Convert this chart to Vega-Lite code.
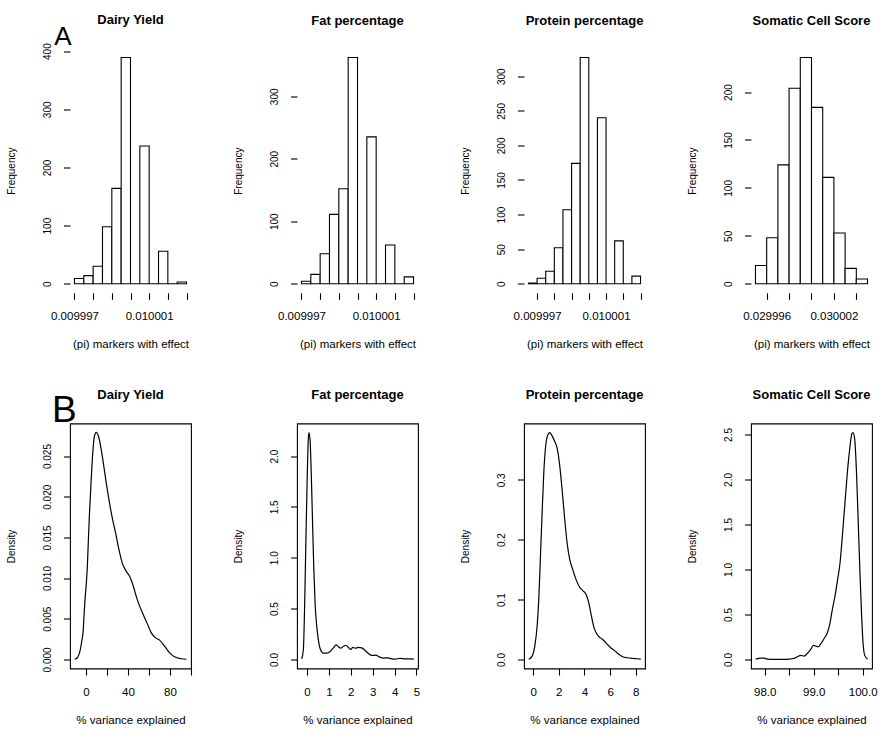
{
  "$schema": "https://vega.github.io/schema/vega-lite/v6.json",
  "background": "white",
  "padding": {"left": 5, "top": 13.5, "right": 5, "bottom": 5},
  "columns": 4,
  "bounds": "flush",
  "spacing": {"row": 130, "column": 106},
  "datasets": {
    "h_dairy": [
      {"x0": 0.0099970, "x1": 0.0099975, "count": 9},
      {"x0": 0.0099975, "x1": 0.0099980, "count": 14},
      {"x0": 0.0099980, "x1": 0.0099985, "count": 30},
      {"x0": 0.0099985, "x1": 0.0099990, "count": 98},
      {"x0": 0.0099990, "x1": 0.0099995, "count": 164},
      {"x0": 0.0099995, "x1": 0.0100000, "count": 389},
      {"x0": 0.0100000, "x1": 0.0100005, "count": 0},
      {"x0": 0.0100005, "x1": 0.0100010, "count": 237},
      {"x0": 0.0100010, "x1": 0.0100015, "count": 0},
      {"x0": 0.0100015, "x1": 0.0100020, "count": 56},
      {"x0": 0.0100020, "x1": 0.0100025, "count": 0},
      {"x0": 0.0100025, "x1": 0.0100030, "count": 3}
    ],
    "h_fat": [
      {"x0": 0.0099970, "x1": 0.0099975, "count": 4},
      {"x0": 0.0099975, "x1": 0.0099980, "count": 15},
      {"x0": 0.0099980, "x1": 0.0099985, "count": 48},
      {"x0": 0.0099985, "x1": 0.0099990, "count": 111},
      {"x0": 0.0099990, "x1": 0.0099995, "count": 152},
      {"x0": 0.0099995, "x1": 0.0100000, "count": 362},
      {"x0": 0.0100000, "x1": 0.0100005, "count": 0},
      {"x0": 0.0100005, "x1": 0.0100010, "count": 235},
      {"x0": 0.0100010, "x1": 0.0100015, "count": 0},
      {"x0": 0.0100015, "x1": 0.0100020, "count": 62},
      {"x0": 0.0100020, "x1": 0.0100025, "count": 0},
      {"x0": 0.0100025, "x1": 0.0100030, "count": 11}
    ],
    "h_prot": [
      {"x0": 0.0099965, "x1": 0.0099970, "count": 1},
      {"x0": 0.0099970, "x1": 0.0099975, "count": 8},
      {"x0": 0.0099975, "x1": 0.0099980, "count": 18},
      {"x0": 0.0099980, "x1": 0.0099985, "count": 52},
      {"x0": 0.0099985, "x1": 0.0099990, "count": 107},
      {"x0": 0.0099990, "x1": 0.0099995, "count": 174},
      {"x0": 0.0099995, "x1": 0.0100000, "count": 327},
      {"x0": 0.0100000, "x1": 0.0100005, "count": 0},
      {"x0": 0.0100005, "x1": 0.0100010, "count": 240},
      {"x0": 0.0100010, "x1": 0.0100015, "count": 0},
      {"x0": 0.0100015, "x1": 0.0100020, "count": 62},
      {"x0": 0.0100020, "x1": 0.0100025, "count": 0},
      {"x0": 0.0100025, "x1": 0.0100030, "count": 11}
    ],
    "h_scs": [
      {"x0": 0.029995, "x1": 0.029996, "count": 19},
      {"x0": 0.029996, "x1": 0.029997, "count": 48},
      {"x0": 0.029997, "x1": 0.029998, "count": 124},
      {"x0": 0.029998, "x1": 0.029999, "count": 204},
      {"x0": 0.029999, "x1": 0.030000, "count": 236},
      {"x0": 0.030000, "x1": 0.030001, "count": 184},
      {"x0": 0.030001, "x1": 0.030002, "count": 111},
      {"x0": 0.030002, "x1": 0.030003, "count": 53},
      {"x0": 0.030003, "x1": 0.030004, "count": 16},
      {"x0": 0.030004, "x1": 0.030005, "count": 5}
    ],
    "d_dairy": [
      {"x": -10.8, "y": 0.00002}, {"x": -8.29, "y": 0.0002}, {"x": -6.7, "y": 0.00061},
      {"x": -5.43, "y": 0.00122}, {"x": -3.84, "y": 0.00245}, {"x": -2.89, "y": 0.00326},
      {"x": -1.94, "y": 0.00531}, {"x": -0.98, "y": 0.00735}, {"x": 0.29, "y": 0.00939},
      {"x": 1.24, "y": 0.01143}, {"x": 1.87, "y": 0.01348}, {"x": 3.14, "y": 0.01757},
      {"x": 4.73, "y": 0.02165}, {"x": 6.6, "y": 0.02573}, {"x": 7.9, "y": 0.02737},
      {"x": 9.8, "y": 0.0279}, {"x": 12.03, "y": 0.02737}, {"x": 14.57, "y": 0.02573},
      {"x": 19.33, "y": 0.02165}, {"x": 21.87, "y": 0.01961}, {"x": 24.73, "y": 0.01757},
      {"x": 28.22, "y": 0.01552}, {"x": 31.4, "y": 0.01348}, {"x": 34.57, "y": 0.01184},
      {"x": 38.38, "y": 0.01082}, {"x": 41.55, "y": 0.01021}, {"x": 44.1, "y": 0.00939},
      {"x": 48.86, "y": 0.00735}, {"x": 55.21, "y": 0.00531}, {"x": 58.07, "y": 0.00449},
      {"x": 62.2, "y": 0.00326}, {"x": 66.31, "y": 0.00265}, {"x": 70.12, "y": 0.00237},
      {"x": 74.89, "y": 0.00163}, {"x": 79.65, "y": 0.00081}, {"x": 84.41, "y": 0.00032},
      {"x": 90.76, "y": 0.00008}, {"x": 95.8, "y": 0.00002}
    ],
    "d_fat": [
      {"x": -0.244, "y": 0.006}, {"x": -0.168, "y": 0.098}, {"x": -0.122, "y": 0.425},
      {"x": -0.061, "y": 1.078}, {"x": 0.0, "y": 1.731}, {"x": 0.046, "y": 2.124},
      {"x": 0.085, "y": 2.231}, {"x": 0.137, "y": 2.157}, {"x": 0.183, "y": 1.895},
      {"x": 0.244, "y": 1.405}, {"x": 0.305, "y": 0.915}, {"x": 0.366, "y": 0.555},
      {"x": 0.442, "y": 0.327}, {"x": 0.518, "y": 0.189}, {"x": 0.61, "y": 0.098},
      {"x": 0.747, "y": 0.062}, {"x": 0.899, "y": 0.062}, {"x": 1.052, "y": 0.078},
      {"x": 1.204, "y": 0.114}, {"x": 1.326, "y": 0.143}, {"x": 1.433, "y": 0.124},
      {"x": 1.539, "y": 0.11}, {"x": 1.661, "y": 0.13}, {"x": 1.783, "y": 0.137},
      {"x": 1.89, "y": 0.118}, {"x": 1.996, "y": 0.098}, {"x": 2.088, "y": 0.118},
      {"x": 2.195, "y": 0.11}, {"x": 2.347, "y": 0.118}, {"x": 2.499, "y": 0.114},
      {"x": 2.652, "y": 0.088}, {"x": 2.804, "y": 0.059}, {"x": 2.957, "y": 0.039},
      {"x": 3.14, "y": 0.042}, {"x": 3.292, "y": 0.026}, {"x": 3.49, "y": 0.013},
      {"x": 3.688, "y": 0.016}, {"x": 3.871, "y": 0.006}, {"x": 4.024, "y": 0.003},
      {"x": 4.252, "y": 0.01}, {"x": 4.481, "y": 0.006}, {"x": 4.71, "y": 0.006},
      {"x": 4.877, "y": 0.003}
    ],
    "d_prot": [
      {"x": -0.338, "y": 0.0003}, {"x": -0.078, "y": 0.0055}, {"x": 0.13, "y": 0.0222},
      {"x": 0.312, "y": 0.0555}, {"x": 0.441, "y": 0.1}, {"x": 0.571, "y": 0.172},
      {"x": 0.701, "y": 0.244}, {"x": 0.831, "y": 0.311}, {"x": 0.961, "y": 0.3527},
      {"x": 1.117, "y": 0.3733}, {"x": 1.299, "y": 0.3788}, {"x": 1.481, "y": 0.3733},
      {"x": 1.688, "y": 0.3638}, {"x": 1.871, "y": 0.3527}, {"x": 2.052, "y": 0.3277},
      {"x": 2.26, "y": 0.2833}, {"x": 2.468, "y": 0.2333}, {"x": 2.65, "y": 0.1944},
      {"x": 2.857, "y": 0.1667}, {"x": 3.091, "y": 0.15}, {"x": 3.351, "y": 0.1333},
      {"x": 3.611, "y": 0.121}, {"x": 3.871, "y": 0.115}, {"x": 4.131, "y": 0.1083},
      {"x": 4.338, "y": 0.0944}, {"x": 4.546, "y": 0.0722}, {"x": 4.754, "y": 0.0527},
      {"x": 4.988, "y": 0.0417}, {"x": 5.248, "y": 0.036}, {"x": 5.507, "y": 0.0317},
      {"x": 5.768, "y": 0.0255}, {"x": 6.027, "y": 0.02}, {"x": 6.365, "y": 0.0143},
      {"x": 6.677, "y": 0.0088}, {"x": 6.988, "y": 0.0044}, {"x": 7.326, "y": 0.0028},
      {"x": 7.716, "y": 0.0017}, {"x": 8.106, "y": 0.0011}, {"x": 8.39, "y": 0.0006}
    ],
    "d_scs": [
      {"x": 97.816, "y": 0.004}, {"x": 97.918, "y": 0.015}, {"x": 97.986, "y": 0.015},
      {"x": 98.054, "y": 0.004}, {"x": 98.19, "y": 0.0}, {"x": 98.361, "y": 0.0},
      {"x": 98.497, "y": 0.004}, {"x": 98.599, "y": 0.011}, {"x": 98.667, "y": 0.03},
      {"x": 98.735, "y": 0.045}, {"x": 98.803, "y": 0.037}, {"x": 98.871, "y": 0.067},
      {"x": 98.939, "y": 0.111}, {"x": 98.993, "y": 0.156}, {"x": 99.041, "y": 0.148},
      {"x": 99.095, "y": 0.141}, {"x": 99.15, "y": 0.178}, {"x": 99.211, "y": 0.23},
      {"x": 99.279, "y": 0.297}, {"x": 99.327, "y": 0.39}, {"x": 99.381, "y": 0.556},
      {"x": 99.435, "y": 0.705}, {"x": 99.483, "y": 0.871}, {"x": 99.538, "y": 1.075},
      {"x": 99.585, "y": 1.372}, {"x": 99.633, "y": 1.706}, {"x": 99.687, "y": 2.077},
      {"x": 99.735, "y": 2.337}, {"x": 99.776, "y": 2.503}, {"x": 99.803, "y": 2.521},
      {"x": 99.837, "y": 2.448}, {"x": 99.871, "y": 2.114}, {"x": 99.905, "y": 1.595},
      {"x": 99.939, "y": 1.038}, {"x": 99.973, "y": 0.556}, {"x": 100.007, "y": 0.185},
      {"x": 100.041, "y": 0.045}, {"x": 100.102, "y": 0.004}
    ],
    "lab_a": [{"label": "A"}],
    "lab_b": [{"label": "B"}]
  },
  "concat": [
    {
      "width": 121, "height": 244.3,
      "title": {"text": "Dairy Yield", "offset": -3.5},
      "view": {"stroke": null},
      "layer": [
        {
          "data": {"name": "h_dairy"},
          "mark": {"type": "rect", "fill": "white", "stroke": "black", "strokeWidth": 1.1},
          "encoding": {
            "x": {"field": "x0", "type": "quantitative", "scale": {"domain": [0.00999676, 0.01000324], "nice": false, "zero": false},
                  "axis": {"title": "(pi) markers with effect", "tickCount": 50, "labelOverlap": false, "values": [0.009997, 0.009998, 0.009999, 0.01, 0.010001, 0.010002, 0.010003],
                           "labelExpr": "(round(datum.value * 1e6) == 9997 || round(datum.value * 1e6) == 10001) ? format(datum.value, '.6f') : ''"}},
            "x2": {"field": "x1"},
            "y": {"field": "count", "type": "quantitative", "scale": {"domain": [-15.56, 404.56], "nice": false, "zero": false},
                  "axis": {"title": "Frequency", "tickCount": 50, "labelOverlap": false, "values": [0, 100, 200, 300, 400], "format": "d"}},
            "y2": {"datum": 0}
          }
        },
        {"mark": {"type": "rule", "color": "black", "strokeWidth": 1.1}, "encoding": {"x": {"datum": 0.00999676}, "y": {"datum": 0}, "y2": {"datum": 400}}},
        {"mark": {"type": "rule", "color": "black", "strokeWidth": 1.1}, "encoding": {"y": {"datum": -15.56}, "x": {"datum": 0.009997}, "x2": {"datum": 0.010003}}},
        {"data": {"name": "lab_a"},
         "mark": {"type": "text", "fontSize": 26, "align": "left", "baseline": "alphabetic", "font": "Liberation Sans", "color": "black"},
         "encoding": {"text": {"field": "label"}, "x": {"datum": 0.00999591}, "y": {"datum": 410.9}}}
      ]
    },
    {
      "width": 121, "height": 244.3,
      "title": {"text": "Fat percentage"},
      "view": {"stroke": null},
      "layer": [
        {
          "data": {"name": "h_fat"},
          "mark": {"type": "rect", "fill": "white", "stroke": "black", "strokeWidth": 1.1},
          "encoding": {
            "x": {"field": "x0", "type": "quantitative", "scale": {"domain": [0.00999676, 0.01000324], "nice": false, "zero": false},
                  "axis": {"title": "(pi) markers with effect", "tickCount": 50, "labelOverlap": false, "values": [0.009997, 0.009998, 0.009999, 0.01, 0.010001, 0.010002, 0.010003],
                           "labelExpr": "(round(datum.value * 1e6) == 9997 || round(datum.value * 1e6) == 10001) ? format(datum.value, '.6f') : ''"}},
            "x2": {"field": "x1"},
            "y": {"field": "count", "type": "quantitative", "scale": {"domain": [-14.48, 376.48], "nice": false, "zero": false},
                  "axis": {"title": "Frequency", "tickCount": 50, "labelOverlap": false, "values": [0, 100, 200, 300], "format": "d"}},
            "y2": {"datum": 0}
          }
        },
        {"mark": {"type": "rule", "color": "black", "strokeWidth": 1.1}, "encoding": {"x": {"datum": 0.00999676}, "y": {"datum": 0}, "y2": {"datum": 300}}},
        {"mark": {"type": "rule", "color": "black", "strokeWidth": 1.1}, "encoding": {"y": {"datum": -14.48}, "x": {"datum": 0.009997}, "x2": {"datum": 0.010003}}}
      ]
    },
    {
      "width": 121, "height": 244.3,
      "title": {"text": "Protein percentage"},
      "view": {"stroke": null},
      "layer": [
        {
          "data": {"name": "h_prot"},
          "mark": {"type": "rect", "fill": "white", "stroke": "black", "strokeWidth": 1.1},
          "encoding": {
            "x": {"field": "x0", "type": "quantitative", "scale": {"domain": [0.00999624, 0.01000326], "nice": false, "zero": false},
                  "axis": {"title": "(pi) markers with effect", "tickCount": 50, "labelOverlap": false, "values": [0.009997, 0.009998, 0.009999, 0.01, 0.010001, 0.010002, 0.010003],
                           "labelExpr": "(round(datum.value * 1e6) == 9997 || round(datum.value * 1e6) == 10001) ? format(datum.value, '.6f') : ''"}},
            "x2": {"field": "x1"},
            "y": {"field": "count", "type": "quantitative", "scale": {"domain": [-13.08, 340.08], "nice": false, "zero": false},
                  "axis": {"title": "Frequency", "tickCount": 50, "labelOverlap": false, "values": [0, 50, 100, 150, 200, 250, 300], "format": "d"}},
            "y2": {"datum": 0}
          }
        },
        {"mark": {"type": "rule", "color": "black", "strokeWidth": 1.1}, "encoding": {"x": {"datum": 0.00999624}, "y": {"datum": 0}, "y2": {"datum": 300}}},
        {"mark": {"type": "rule", "color": "black", "strokeWidth": 1.1}, "encoding": {"y": {"datum": -13.08}, "x": {"datum": 0.009997}, "x2": {"datum": 0.010003}}}
      ]
    },
    {
      "width": 121, "height": 244.3,
      "title": {"text": "Somatic Cell Score"},
      "view": {"stroke": null},
      "layer": [
        {
          "data": {"name": "h_scs"},
          "mark": {"type": "rect", "fill": "white", "stroke": "black", "strokeWidth": 1.1},
          "encoding": {
            "x": {"field": "x0", "type": "quantitative", "scale": {"domain": [0.0299946, 0.0300054], "nice": false, "zero": false},
                  "axis": {"title": "(pi) markers with effect", "tickCount": 50, "labelOverlap": false, "values": [0.029996, 0.029998, 0.03, 0.030002, 0.030004],
                           "labelExpr": "(round(datum.value * 1e6) == 29996 || round(datum.value * 1e6) == 30002) ? format(datum.value, '.6f') : ''"}},
            "x2": {"field": "x1"},
            "y": {"field": "count", "type": "quantitative", "scale": {"domain": [-9.44, 245.44], "nice": false, "zero": false},
                  "axis": {"title": "Frequency", "tickCount": 50, "labelOverlap": false, "values": [0, 50, 100, 150, 200], "format": "d"}},
            "y2": {"datum": 0}
          }
        },
        {"mark": {"type": "rule", "color": "black", "strokeWidth": 1.1}, "encoding": {"x": {"datum": 0.0299946}, "y": {"datum": 0}, "y2": {"datum": 200}}},
        {"mark": {"type": "rule", "color": "black", "strokeWidth": 1.1}, "encoding": {"y": {"datum": -9.44}, "x": {"datum": 0.029996}, "x2": {"datum": 0.030004}}}
      ]
    },
    {
      "width": 121, "height": 245,
      "title": {"text": "Dairy Yield", "offset": -10.3},
      "view": {"stroke": "black", "strokeWidth": 1.1},
      "layer": [
        {"mark": {"type": "rule", "color": "#c8c8c8", "strokeWidth": 0.6}, "encoding": {"y": {"datum": 0}}},
        {
          "data": {"name": "d_dairy"},
          "mark": {"type": "line", "color": "black", "strokeWidth": 1.2, "interpolate": "monotone"},
          "encoding": {
            "x": {"field": "x", "type": "quantitative", "scale": {"domain": [-15.3, 100.1], "nice": false, "zero": false},
                  "axis": {"title": "% variance explained", "tickCount": 50, "labelOverlap": false, "values": [0, 20, 40, 60, 80, 100],
                           "labelExpr": "(datum.value == 0 || datum.value == 40 || datum.value == 80) ? format(datum.value, 'd') : ''"}},
            "y": {"field": "y", "type": "quantitative", "scale": {"domain": [-0.00112, 0.029], "nice": false, "zero": false},
                  "axis": {"title": "Density", "tickCount": 50, "labelOverlap": false, "values": [0, 0.005, 0.01, 0.015, 0.02, 0.025], "format": ".3f"}}
          }
        },
        {"data": {"name": "lab_b"},
         "mark": {"type": "text", "fontSize": 37, "align": "left", "baseline": "alphabetic", "font": "Liberation Sans", "color": "black"},
         "encoding": {"text": {"field": "label"}, "x": {"datum": -32.5}, "y": {"datum": 0.02921}}}
      ]
    },
    {
      "width": 121, "height": 245,
      "title": {"text": "Fat percentage", "offset": 21.3},
      "view": {"stroke": "black", "strokeWidth": 1.1},
      "layer": [
        {"mark": {"type": "rule", "color": "#c8c8c8", "strokeWidth": 0.6}, "encoding": {"y": {"datum": 0}}},
        {
          "data": {"name": "d_fat"},
          "mark": {"type": "line", "color": "black", "strokeWidth": 1.2, "interpolate": "monotone"},
          "encoding": {
            "x": {"field": "x", "type": "quantitative", "scale": {"domain": [-0.46, 5.07], "nice": false, "zero": false},
                  "axis": {"title": "% variance explained", "tickCount": 50, "labelOverlap": false, "values": [0, 1, 2, 3, 4, 5], "format": "d"}},
            "y": {"field": "y", "type": "quantitative", "scale": {"domain": [-0.0892, 2.32], "nice": false, "zero": false},
                  "axis": {"title": "Density", "tickCount": 50, "labelOverlap": false, "values": [0, 0.5, 1, 1.5, 2], "format": ".1f"}}
          }
        }
      ]
    },
    {
      "width": 121, "height": 245,
      "title": {"text": "Protein percentage", "offset": 21.3},
      "view": {"stroke": "black", "strokeWidth": 1.1},
      "layer": [
        {"mark": {"type": "rule", "color": "#c8c8c8", "strokeWidth": 0.6}, "encoding": {"y": {"datum": 0}}},
        {
          "data": {"name": "d_prot"},
          "mark": {"type": "line", "color": "black", "strokeWidth": 1.2, "interpolate": "monotone"},
          "encoding": {
            "x": {"field": "x", "type": "quantitative", "scale": {"domain": [-0.71, 8.72], "nice": false, "zero": false},
                  "axis": {"title": "% variance explained", "tickCount": 50, "labelOverlap": false, "values": [0, 2, 4, 6, 8], "format": "d"}},
            "y": {"field": "y", "type": "quantitative", "scale": {"domain": [-0.01515, 0.39395], "nice": false, "zero": false},
                  "axis": {"title": "Density", "tickCount": 50, "labelOverlap": false, "values": [0, 0.1, 0.2, 0.3], "format": ".1f"}}
          }
        }
      ]
    },
    {
      "width": 121, "height": 245,
      "title": {"text": "Somatic Cell Score", "offset": 21.3},
      "view": {"stroke": "black", "strokeWidth": 1.1},
      "layer": [
        {"mark": {"type": "rule", "color": "#c8c8c8", "strokeWidth": 0.6}, "encoding": {"y": {"datum": 0}}},
        {
          "data": {"name": "d_scs"},
          "mark": {"type": "line", "color": "black", "strokeWidth": 1.2, "interpolate": "monotone"},
          "encoding": {
            "x": {"field": "x", "type": "quantitative", "scale": {"domain": [97.72, 100.19], "nice": false, "zero": false},
                  "axis": {"title": "% variance explained", "tickCount": 50, "labelOverlap": false, "values": [98, 98.5, 99, 99.5, 100],
                           "labelExpr": "(round(datum.value * 2) % 2 == 0) ? format(datum.value, '.1f') : ''"}},
            "y": {"field": "y", "type": "quantitative", "scale": {"domain": [-0.1008, 2.6218], "nice": false, "zero": false},
                  "axis": {"title": "Density", "tickCount": 50, "labelOverlap": false, "values": [0, 0.5, 1, 1.5, 2, 2.5], "format": ".1f"}}
          }
        }
      ]
    }
  ],
  "config": {
    "font": "Liberation Sans",
    "view": {"stroke": null},
    "axis": {
      "domain": false, "grid": false, "ticks": true, "tickColor": "black", "tickWidth": 1.1, "tickSize": 6.5, "tickCount": 50,
      "labelColor": "black", "titleColor": "black", "titleFontWeight": "normal",
      "labelOverlap": false, "labelFlush": false, "labelFont": "Liberation Sans", "titleFont": "Liberation Sans"
    },
    "axisX": {
      "labelFontSize": 11.5, "labelAngle": 0, "labelAlign": "center", "labelBaseline": "alphabetic", "labelPadding": 20,
      "titleFontSize": 11.5, "titleBaseline": "alphabetic", "titleY": 54.5
    },
    "axisY": {
      "labelFontSize": 10, "labelAngle": -90, "labelAlign": "center", "labelBaseline": "alphabetic", "labelPadding": 13.5,
      "titleFontSize": 10, "titleAngle": -90, "titleBaseline": "alphabetic", "titleX": -55.5
    },
    "title": {
      "font": "Liberation Sans", "fontSize": 13, "fontWeight": "bold", "color": "black",
      "frame": "group", "anchor": "middle", "baseline": "alphabetic", "offset": 21
    }
  }
}
